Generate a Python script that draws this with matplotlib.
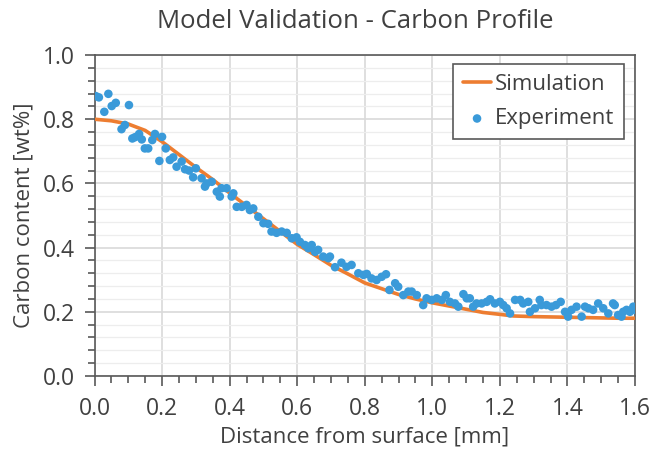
import matplotlib
matplotlib.use("Agg")
import matplotlib.pyplot as plt
from matplotlib.ticker import MultipleLocator

plt.rcParams['font.family'] = ['Open Sans', 'DejaVu Sans']

title = "Model Validation - Carbon Profile"
x_label = "Distance from surface [mm]"
y_label = "Carbon content [wt%]"

sim_x = [0.00, 0.05, 0.10, 0.15, 0.20, 0.25, 0.30, 0.35, 0.40, 0.45, 0.50,
         0.55, 0.60, 0.65, 0.70, 0.75, 0.80, 0.85, 0.90, 0.95, 1.00, 1.05,
         1.10, 1.15, 1.20, 1.24, 1.30, 1.35, 1.40, 1.45, 1.50, 1.55, 1.60]
sim_y = [0.800, 0.795, 0.785, 0.765, 0.730, 0.690, 0.650, 0.612, 0.570, 0.530, 0.490,
         0.450, 0.410, 0.378, 0.345, 0.318, 0.290, 0.272, 0.254, 0.240, 0.228, 0.218,
         0.208, 0.198, 0.192, 0.187, 0.185, 0.184, 0.183, 0.182, 0.181, 0.180, 0.180]

exp_x = [0.004, 0.013, 0.029, 0.041, 0.051, 0.063, 0.080, 0.090, 0.102, 0.112,
         0.120, 0.132, 0.140, 0.149, 0.159, 0.171, 0.179, 0.192, 0.200, 0.211,
         0.223, 0.233, 0.243, 0.258, 0.268, 0.280, 0.292, 0.300,
         0.317, 0.327, 0.332, 0.347, 0.362, 0.371, 0.376, 0.391, 0.406, 0.411,
         0.421, 0.436, 0.450, 0.460, 0.470, 0.485, 0.500, 0.514, 0.524, 0.539,
         0.554, 0.569, 0.584, 0.598, 0.608, 0.623, 0.633, 0.643, 0.653, 0.662,
         0.677, 0.692,
         0.697, 0.712, 0.731, 0.746, 0.761, 0.781, 0.796, 0.806, 0.820, 0.835,
         0.850, 0.863, 0.873, 0.890, 0.899, 0.914, 0.929, 0.939, 0.954, 0.973,
         0.983, 0.998, 1.013, 1.028, 1.040, 1.052, 1.067, 1.077, 1.092, 1.102,
         1.111, 1.121, 1.131, 1.146, 1.161, 1.171, 1.185, 1.200, 1.210, 1.220,
         1.230, 1.245, 1.260, 1.269, 1.284, 1.289, 1.304, 1.318, 1.323, 1.338,
         1.353, 1.366, 1.380, 1.393, 1.402, 1.412, 1.427, 1.442, 1.452, 1.462,
         1.476, 1.491, 1.506, 1.521, 1.535, 1.540, 1.550, 1.560, 1.565, 1.575,
         1.585, 1.595, 1.600]
exp_y = [0.872, 0.868, 0.823, 0.879, 0.841, 0.851, 0.769, 0.782, 0.844, 0.740,
         0.744, 0.754, 0.737, 0.709, 0.709, 0.735, 0.754, 0.670, 0.745, 0.709,
         0.673, 0.681, 0.652, 0.668, 0.644, 0.640, 0.619, 0.647,
         0.616, 0.590, 0.600, 0.605, 0.574, 0.559, 0.585, 0.585, 0.559, 0.569,
         0.527, 0.527, 0.533, 0.517, 0.522, 0.496, 0.476, 0.474, 0.450, 0.446,
         0.450, 0.446, 0.429, 0.432, 0.418, 0.408, 0.398, 0.408, 0.387, 0.393,
         0.372, 0.367,
         0.372, 0.339, 0.353, 0.340, 0.346, 0.320, 0.315, 0.318, 0.304, 0.299,
         0.309, 0.317, 0.268, 0.289, 0.278, 0.252, 0.263, 0.263, 0.252, 0.221,
         0.242, 0.237, 0.242, 0.237, 0.252, 0.231, 0.226, 0.216, 0.255, 0.242,
         0.242, 0.216, 0.226, 0.226, 0.231, 0.239, 0.226, 0.231, 0.221, 0.211,
         0.195, 0.237, 0.237, 0.226, 0.231, 0.200, 0.211, 0.237, 0.221, 0.221,
         0.216, 0.221, 0.231, 0.200, 0.185, 0.206, 0.216, 0.185, 0.216, 0.211,
         0.206, 0.226, 0.211, 0.195, 0.226, 0.221, 0.190, 0.185, 0.200, 0.206,
         0.200, 0.216, 0.206]

orange = "#ED7D31"
blue = "#3A9AD9"
dark = "#595959"
text_col = "#404040"

fig = plt.figure(figsize=(6.54, 4.53), dpi=100)
ax = fig.add_axes([94.5/654, 1 - 376/453, 540.5/654, 321/453])

ax.plot(sim_x, sim_y, color=orange, lw=2.6, label="Simulation", zorder=3, solid_capstyle='round')
ax.scatter(exp_x, exp_y, s=38, color=blue, edgecolors='none', label="Experiment", zorder=4)

ax.set_xlim(0, 1.6)
ax.set_ylim(0, 1.0)
ax.xaxis.set_major_locator(MultipleLocator(0.2))
ax.xaxis.set_minor_locator(MultipleLocator(0.05))
ax.yaxis.set_major_locator(MultipleLocator(0.2))
ax.yaxis.set_minor_locator(MultipleLocator(0.04))
ax.xaxis.set_major_formatter(plt.FuncFormatter(lambda v, p: f"{v:.1f}"))
ax.yaxis.set_major_formatter(plt.FuncFormatter(lambda v, p: f"{v:.1f}"))

ax.grid(which='major', color="#d9d9d9", lw=1.2, zorder=0)
ax.grid(which='minor', axis='y', color="#ededed", lw=0.9, zorder=0)
ax.set_axisbelow(True)

for s in ax.spines.values():
    s.set_color(dark)
    s.set_linewidth(1.2)

ax.tick_params(which='major', direction='out', length=7, width=1.2, color=dark,
               labelsize=16.5, labelcolor=text_col, pad=7)
ax.tick_params(axis='x', which='major', pad=8)
ax.tick_params(which='minor', direction='out', length=5, width=1.2, color=dark)

ax.set_xlabel(x_label, fontsize=16, color=text_col, labelpad=4)
ax.set_ylabel(y_label, fontsize=16, color=text_col, labelpad=6)

fig.text(355/654, 1 - 22/453, title, ha='center', va='center', fontsize=18.5, color=text_col)

leg = ax.legend(loc='upper right', bbox_to_anchor=(0.98, 0.972), borderaxespad=0,
                fontsize=16, frameon=True, fancybox=False, framealpha=1,
                edgecolor=dark, handlelength=1.3, handletextpad=0.15,
                labelspacing=0.6, markerscale=1.0, borderpad=0.45)
leg.get_frame().set_linewidth(1.2)
for t in leg.get_texts():
    t.set_color(text_col)

fig.savefig("out.png", dpi=100)
